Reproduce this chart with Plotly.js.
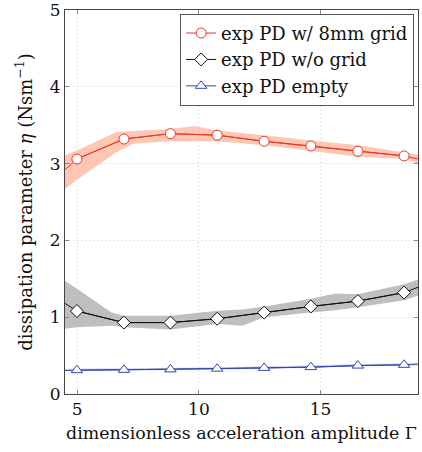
<!DOCTYPE html>
<html><head><meta charset="utf-8">
<script src="https://cdn.plot.ly/plotly-3.0.1.min.js"></script>
<style>html,body{margin:0;padding:0;background:#fff}#plot{width:422px;height:452px}</style>
</head><body><div id="plot"></div>
<script>
// marker positions (Gamma)
const gammaMarkers = [4.99, 6.92, 8.83, 10.75, 12.68, 14.6, 16.53, 18.43];
// line end points at axis edges
const gammaLeft = 4.5, gammaRight = 19.0;

const gridMean = [3.06, 3.32, 3.39, 3.37, 3.29, 3.23, 3.16, 3.10];
const gridLeft = 2.92, gridRight = 3.06;
const gridBandX = [4.5, 4.99, 6.62, 7.3, 8.83, 9.82, 10.75, 12.68, 14.6, 16.53, 18.43, 19.0];
const gridUpper = [3.11, 3.17, 3.41, 3.42, 3.45, 3.49, 3.43, 3.37, 3.30, 3.24, 3.15, 3.12];
const gridLower = [2.67, 2.79, 3.15, 3.26, 3.29, 3.29, 3.29, 3.24, 3.17, 3.09, 3.06, 3.00];

const noGridMean = [1.08, 0.93, 0.93, 0.98, 1.06, 1.14, 1.21, 1.32];
const noGridLeft = 1.18, noGridRight = 1.39;
const noGridBandX = [4.5, 4.99, 6.41, 6.92, 8.83, 10.75, 11.8, 12.68, 14.6, 15.6, 16.53, 18.43, 19.0];
const noGridUpper = [1.47, 1.37, 1.06, 1.02, 1.02, 1.085, 1.10, 1.14, 1.24, 1.31, 1.30, 1.43, 1.49];
const noGridLower = [0.85, 0.87, 0.89, 0.87, 0.84, 0.91, 0.89, 1.00, 1.06, 1.09, 1.13, 1.22, 1.28];

const emptyMean = [0.31, 0.315, 0.32, 0.33, 0.34, 0.35, 0.37, 0.38];
const emptyLeft = 0.305, emptyRight = 0.39;
const emptyUpper = [0.33, 0.335, 0.34, 0.35, 0.36, 0.37, 0.39, 0.40];
const emptyLower = [0.30, 0.305, 0.31, 0.32, 0.33, 0.34, 0.36, 0.37];

const xTicks = [5, 10, 15];
const yTicks = [0, 1, 2, 3, 4, 5];

const series = [
  {name: 'exp PD w/ 8mm grid', mean: gridMean, l: gridLeft, r: gridRight, bx: gridBandX, up: gridUpper, lo: gridLower,
   color: '#e8372a', fill: 'rgba(253,180,155,0.75)', symbol: 'circle', size: 10},
  {name: 'exp PD w/o grid', mean: noGridMean, l: noGridLeft, r: noGridRight, bx: noGridBandX, up: noGridUpper, lo: noGridLower,
   color: '#111111', fill: 'rgba(170,170,170,0.75)', symbol: 'diamond', size: 10},
  {name: 'exp PD empty', mean: emptyMean, l: emptyLeft, r: emptyRight, bx: [gammaLeft].concat(gammaMarkers, [gammaRight]),
   up: [emptyUpper[0]].concat(emptyUpper, [emptyUpper[7]]), lo: [emptyLower[0]].concat(emptyLower, [emptyLower[7]]),
   color: '#3346b0', fill: 'rgba(170,180,235,0.6)', symbol: 'triangle-up', size: 10}
];

const traces = [];
series.forEach(s => {
  traces.push({x: s.bx, y: s.lo, mode: 'lines', line: {width: 0}, showlegend: false, hoverinfo: 'skip'});
  traces.push({x: s.bx, y: s.up, mode: 'lines', line: {width: 0}, fill: 'tonexty', fillcolor: s.fill, showlegend: false, hoverinfo: 'skip'});
});
series.forEach(s => {
  traces.push({x: [gammaLeft].concat(gammaMarkers, [gammaRight]), y: [s.l].concat(s.mean, [s.r]),
    mode: 'lines', line: {color: s.color, width: 1}, showlegend: false, hoverinfo: 'skip'});
  traces.push({x: gammaMarkers, y: s.mean, name: s.name, mode: 'lines+markers',
    line: {color: s.color, width: 1},
    marker: {symbol: s.symbol, size: s.size, color: '#ffffff', line: {color: s.color, width: 1}}});
});

const fam = 'DejaVu Serif, Liberation Serif, serif';
const layout = {
  width: 422, height: 452,
  margin: {l: 65, r: 4, t: 10, b: 58},
  paper_bgcolor: '#fff', plot_bgcolor: '#fff',
  font: {family: fam, size: 18, color: '#111'},
  showlegend: true,
  legend: {x: 0.989, y: 0.99, xanchor: 'right', yanchor: 'top', bgcolor: '#fff',
    bordercolor: '#555', borderwidth: 1, font: {family: fam, size: 18, color: '#111'},
    traceorder: 'normal', tracegroupgap: 0, itemwidth: 30},
  xaxis: {range: [4.5, 19.0], tickvals: xTicks, ticktext: xTicks.map(String),
    showgrid: true, gridcolor: '#d0d0d0', griddash: '1px,3px', gridwidth: 1,
    zeroline: false, showline: true, mirror: 'ticks', linecolor: '#444', linewidth: 1,
    ticks: 'inside', ticklen: 4, tickcolor: '#888', ticklabeloverflow: 'allow',
    tickfont: {family: fam, size: 17, color: '#111'},
    title: {text: 'dimensionless acceleration amplitude Γ', font: {family: fam, size: 17.4, color: '#111'}, standoff: 8}},
  yaxis: {range: [0, 5], tickvals: yTicks, ticktext: yTicks.map(String),
    showgrid: true, gridcolor: '#d0d0d0', griddash: '1px,3px', gridwidth: 1,
    zeroline: false, showline: true, mirror: 'ticks', linecolor: '#444', linewidth: 1,
    ticks: 'inside', ticklen: 4, tickcolor: '#888', ticklabeloverflow: 'allow',
    tickfont: {family: fam, size: 17, color: '#111'},
    title: {text: 'dissipation parameter <i>η</i> (Nsm<sup>−1</sup>)', font: {family: fam, size: 18, color: '#111'}, standoff: 12}}
};
Plotly.newPlot('plot', traces, layout, {staticPlot: true, displayModeBar: false});
</script></body></html>
